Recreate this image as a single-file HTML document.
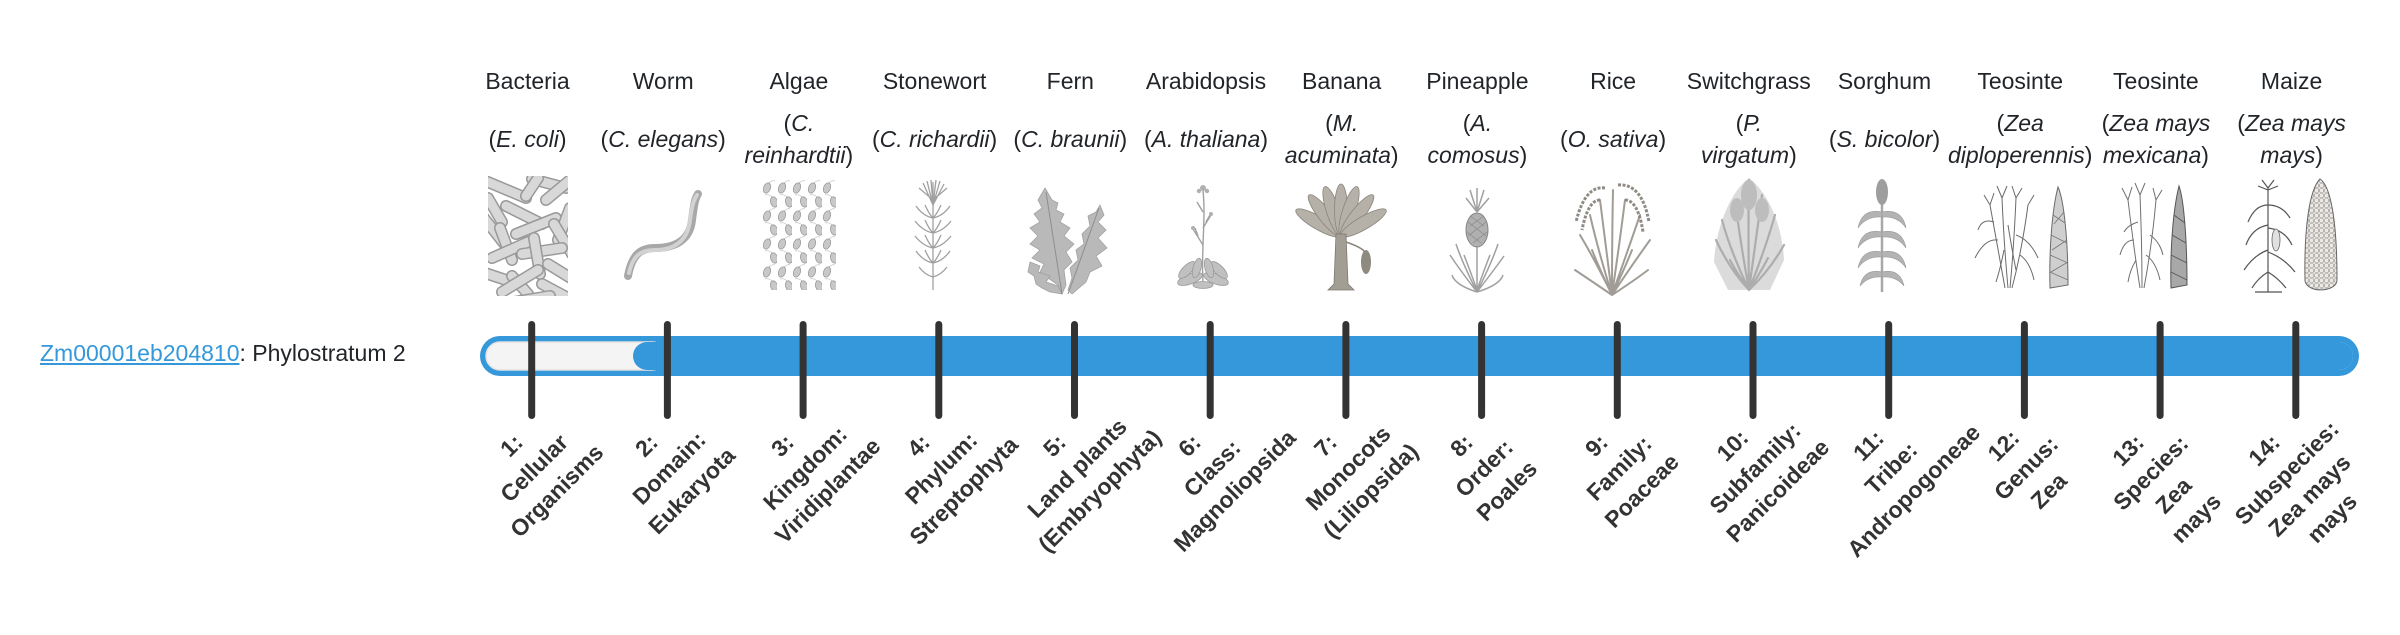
<!DOCTYPE html>
<html><head><meta charset="utf-8">
<style>
html,body{margin:0;padding:0;background:#fff;}
body{width:2400px;height:580px;position:relative;overflow:hidden;font-family:"Liberation Sans",Arial,sans-serif;color:#212529;}
.h{position:absolute;width:200px;text-align:center;font-size:23px;line-height:31.5px;white-space:nowrap;}
.lb{position:absolute;width:300px;top:420px;text-align:center;font-size:23px;line-height:32px;font-weight:bold;color:#333;white-space:nowrap;transform:rotate(-45deg);}
.lnk{position:absolute;left:40px;top:338px;font-size:23px;line-height:31.5px;white-space:nowrap;}
.lnk a{color:#3498db;text-decoration:underline;}
svg{position:absolute;left:0;top:0;}
</style></head><body>

<svg width="2400" height="580" viewBox="0 0 2400 580" xmlns="http://www.w3.org/2000/svg">
<defs>
<clipPath id="cb"><rect x="0" y="0" width="80" height="120"/></clipPath>
<pattern id="alg" x="762" y="180" width="15" height="28" patternUnits="userSpaceOnUse">
<ellipse cx="5" cy="8" rx="3.4" ry="5.3" fill="#c8c8c8" stroke="#9a9a9a" stroke-width="0.8" transform="rotate(20 5 8)"/>
<path d="M7 3 q3 -3 6 -2" stroke="#aaa" stroke-width="0.6" fill="none"/>
<ellipse cx="12" cy="22" rx="3.4" ry="5.3" fill="#c8c8c8" stroke="#9a9a9a" stroke-width="0.8" transform="rotate(-15 12 22)"/>
<path d="M10 17 q-3 -3 -7 -2" stroke="#aaa" stroke-width="0.6" fill="none"/>
</pattern>
<pattern id="kern" x="2304" y="178" width="5" height="5" patternUnits="userSpaceOnUse">
<rect x="0.5" y="0.5" width="4" height="4" rx="1" fill="#ece9e4" stroke="#8f8b85" stroke-width="0.6"/>
</pattern>
</defs>

<!-- 1 Bacteria -->
<g transform="translate(488,176)" clip-path="url(#cb)" stroke-linecap="round">
<g>
<line x1="0" y1="6" x2="38" y2="22" stroke="#999" stroke-width="12"/><line x1="0" y1="6" x2="38" y2="22" stroke="#d8d8d8" stroke-width="9"/>
<line x1="44" y1="3" x2="78" y2="12" stroke="#999" stroke-width="12"/><line x1="44" y1="3" x2="78" y2="12" stroke="#d8d8d8" stroke-width="9"/>
<line x1="0" y1="22" x2="14" y2="46" stroke="#999" stroke-width="12"/><line x1="0" y1="22" x2="14" y2="46" stroke="#d8d8d8" stroke-width="9"/>
<line x1="18" y1="30" x2="54" y2="48" stroke="#999" stroke-width="12"/><line x1="18" y1="30" x2="54" y2="48" stroke="#d8d8d8" stroke-width="9"/>
<line x1="58" y1="24" x2="82" y2="4" stroke="#999" stroke-width="12"/><line x1="58" y1="24" x2="82" y2="4" stroke="#d8d8d8" stroke-width="9"/>
<line x1="38" y1="20" x2="50" y2="2" stroke="#999" stroke-width="12"/><line x1="38" y1="20" x2="50" y2="2" stroke="#d8d8d8" stroke-width="9"/>
<line x1="-4" y1="42" x2="18" y2="70" stroke="#999" stroke-width="12"/><line x1="-4" y1="42" x2="18" y2="70" stroke="#d8d8d8" stroke-width="9"/>
<line x1="28" y1="58" x2="68" y2="42" stroke="#999" stroke-width="12"/><line x1="28" y1="58" x2="68" y2="42" stroke="#d8d8d8" stroke-width="9"/>
<line x1="70" y1="64" x2="82" y2="32" stroke="#999" stroke-width="12"/><line x1="70" y1="64" x2="82" y2="32" stroke="#d8d8d8" stroke-width="9"/>
<line x1="66" y1="48" x2="84" y2="78" stroke="#999" stroke-width="12"/><line x1="66" y1="48" x2="84" y2="78" stroke="#d8d8d8" stroke-width="9"/>
<line x1="12" y1="52" x2="24" y2="84" stroke="#999" stroke-width="12"/><line x1="12" y1="52" x2="24" y2="84" stroke="#d8d8d8" stroke-width="9"/>
<line x1="4" y1="82" x2="40" y2="66" stroke="#999" stroke-width="12"/><line x1="4" y1="82" x2="40" y2="66" stroke="#d8d8d8" stroke-width="9"/>
<line x1="34" y1="78" x2="74" y2="72" stroke="#999" stroke-width="12"/><line x1="34" y1="78" x2="74" y2="72" stroke="#d8d8d8" stroke-width="9"/>
<line x1="46" y1="62" x2="52" y2="98" stroke="#999" stroke-width="12"/><line x1="46" y1="62" x2="52" y2="98" stroke="#d8d8d8" stroke-width="9"/>
<line x1="60" y1="88" x2="86" y2="104" stroke="#999" stroke-width="12"/><line x1="60" y1="88" x2="86" y2="104" stroke="#d8d8d8" stroke-width="9"/>
<line x1="-6" y1="96" x2="30" y2="108" stroke="#999" stroke-width="12"/><line x1="-6" y1="96" x2="30" y2="108" stroke="#d8d8d8" stroke-width="9"/>
<line x1="24" y1="100" x2="40" y2="118" stroke="#999" stroke-width="12"/><line x1="24" y1="100" x2="40" y2="118" stroke="#d8d8d8" stroke-width="9"/>
<line x1="14" y1="116" x2="50" y2="94" stroke="#999" stroke-width="12"/><line x1="14" y1="116" x2="50" y2="94" stroke="#d8d8d8" stroke-width="9"/>
<line x1="54" y1="108" x2="84" y2="124" stroke="#999" stroke-width="12"/><line x1="54" y1="108" x2="84" y2="124" stroke="#d8d8d8" stroke-width="9"/>
<line x1="26" y1="126" x2="62" y2="120" stroke="#999" stroke-width="12"/><line x1="26" y1="126" x2="62" y2="120" stroke="#d8d8d8" stroke-width="9"/>
</g></g>

<!-- 2 Worm -->
<path d="M628,276 C632,255 640,248 655,248 C675,248 690,240 692,220 C694,205 695,198 698,194" stroke="#a8a8a8" stroke-width="8" fill="none" stroke-linecap="round"/>
<path d="M629,273 C633,255 641,250 655,250 C675,250 688,240 690,220 C692,205 694,199 697,195" stroke="#d2d2d2" stroke-width="4" fill="none" stroke-linecap="round"/>

<!-- 3 Algae -->
<rect x="762" y="180" width="74" height="110" fill="url(#alg)"/>

<!-- 4 Stonewort -->
<g stroke="#a0a0a0" stroke-width="1.3" fill="none">
<path d="M933,290 L933,182"/>
<path d="M933,205 l-10,-22 M933,205 l-6,-24 M933,205 l-2,-25 M933,205 l3,-25 M933,205 l7,-24 M933,205 l11,-21 M933,200 l-14,-12 M933,200 l14,-12"/>
<path d="M933,218 q-10,-2 -17,-12 M933,218 q10,-2 17,-12 M933,218 q-4,-4 -8,-13 M933,218 q4,-4 8,-13"/>
<path d="M933,233 q-10,-2 -18,-12 M933,233 q10,-2 18,-12 M933,233 q-4,-4 -8,-13 M933,233 q4,-4 8,-13"/>
<path d="M933,248 q-10,-2 -18,-12 M933,248 q10,-2 18,-12 M933,248 q-4,-4 -8,-13 M933,248 q4,-4 8,-13"/>
<path d="M933,263 q-10,-2 -17,-12 M933,263 q10,-2 17,-12 M933,263 q-4,-4 -8,-13 M933,263 q4,-4 8,-13"/>
<path d="M933,277 q-8,-2 -14,-10 M933,277 q8,-2 14,-10"/>
</g>

<!-- 5 Fern -->
<g fill="#b9b9b9" stroke="#a2a2a2" stroke-width="0.8">
<polygon points="1045,188 1052,200 1058,203 1056,210 1064,214 1060,222 1070,228 1064,236 1074,244 1066,252 1072,262 1064,270 1066,285 1062,294 1058,285 1048,278 1040,272 1044,264 1032,258 1040,250 1030,244 1038,236 1030,228 1040,222 1034,214 1042,208 1038,200"/>
<polygon points="1100,205 1104,215 1098,222 1106,230 1098,238 1107,248 1096,256 1102,266 1090,272 1086,282 1072,294 1068,290 1072,278 1070,268 1078,260 1076,250 1084,244 1082,234 1090,226 1088,216 1096,212"/>
<polygon points="1030,262 1040,266 1038,272 1050,276 1046,282 1058,286 1062,294 1050,292 1042,288 1036,284 1034,276 1028,272"/>
</g>
<path d="M1062,294 L1046,192 M1068,294 L1099,208" stroke="#8e8e8e" stroke-width="1" fill="none"/>

<!-- 6 Arabidopsis -->
<g fill="#c0c0c0" stroke="#9a9a9a" stroke-width="0.8">
<ellipse cx="1190" cy="279" rx="13" ry="5" transform="rotate(-20 1190 279)"/>
<ellipse cx="1216" cy="279" rx="13" ry="5" transform="rotate(20 1216 279)"/>
<ellipse cx="1187" cy="270" rx="11" ry="4.5" transform="rotate(-45 1187 270)"/>
<ellipse cx="1219" cy="270" rx="11" ry="4.5" transform="rotate(45 1219 270)"/>
<ellipse cx="1197" cy="268" rx="10" ry="4" transform="rotate(-75 1197 268)"/>
<ellipse cx="1209" cy="268" rx="10" ry="4" transform="rotate(75 1209 268)"/>
<ellipse cx="1203" cy="285" rx="10" ry="3.5"/>
</g>
<g stroke="#a0a0a0" stroke-width="1.4" fill="none">
<path d="M1203,282 C1201,250 1206,220 1203,190"/>
<path d="M1203,245 l-10,-16 M1203,228 l8,-13 M1203,212 l-6,-10 M1198,236 l-3,-8 M1206,222 l4,-7"/>
</g>
<g fill="#b0b0b0"><circle cx="1203" cy="188" r="3"/><circle cx="1199" cy="191" r="2.2"/><circle cx="1207" cy="191" r="2.2"/><circle cx="1193" cy="228" r="2"/><circle cx="1211" cy="214" r="2"/></g>

<!-- 7 Banana -->
<g fill="#b5b1a8" stroke="#8a857b" stroke-width="0.8">
<ellipse cx="1318.5" cy="223" rx="26" ry="6.5" transform="rotate(-150 1318.5 223)"/>
<ellipse cx="1325" cy="215.5" rx="26" ry="6.5" transform="rotate(-128 1325 215.5)"/>
<ellipse cx="1333" cy="211.3" rx="26" ry="6.5" transform="rotate(-108 1333 211.3)"/>
<ellipse cx="1341" cy="210" rx="26" ry="6.5" transform="rotate(-90 1341 210)"/>
<ellipse cx="1349" cy="211.3" rx="26" ry="6.5" transform="rotate(-72 1349 211.3)"/>
<ellipse cx="1357" cy="215.5" rx="26" ry="6.5" transform="rotate(-52 1357 215.5)"/>
<ellipse cx="1363.5" cy="223" rx="26" ry="6.5" transform="rotate(-30 1363.5 223)"/>
</g>
<path d="M1336,234 L1346,234 L1348,284 L1354,290 L1328,290 L1334,284 Z" fill="#a39e94" stroke="#7e796f" stroke-width="0.8"/>
<ellipse cx="1366" cy="262" rx="5" ry="12" fill="#8f8a80"/>
<path d="M1346,242 q15,5 19,10" stroke="#8a857b" stroke-width="1.5" fill="none"/>

<!-- 8 Pineapple -->
<g stroke="#a0a0a0" stroke-width="1.5" fill="none">
<path d="M1477,212 L1470,190 M1477,212 L1477,188 M1477,212 L1484,190 M1477,212 L1466,198 M1477,212 L1489,198"/>
<path d="M1477,246 L1477,292"/>
<path d="M1477,292 Q1460,270 1450,255 M1477,292 Q1462,262 1456,244 M1477,290 Q1468,265 1464,255 M1477,292 Q1494,270 1504,256 M1477,292 Q1492,262 1498,244 M1477,290 Q1486,265 1490,255 M1477,292 Q1455,285 1452,275 M1477,292 Q1500,285 1503,275"/>
</g>
<ellipse cx="1477" cy="230" rx="11" ry="17" fill="#b0b0b0" stroke="#858585" stroke-width="1"/>
<path d="M1468,222 l18,14 M1467,232 l14,11 M1470,216 l14,10 M1486,222 l-18,14 M1487,232 l-14,11 M1484,216 l-14,10" stroke="#888" stroke-width="0.7"/>

<!-- 9 Rice -->
<g stroke="#a19d96" stroke-width="2" fill="none" stroke-linecap="round">
<path d="M1612,295 Q1595,260 1580,235 M1612,295 Q1598,250 1590,215 M1612,295 Q1605,240 1600,200 M1612,295 Q1612,240 1613,190 M1612,295 Q1620,240 1625,200 M1612,295 Q1628,250 1640,215 M1612,295 Q1632,265 1650,240 M1612,295 Q1600,270 1592,250 M1612,295 Q1624,270 1632,250 M1612,295 Q1590,280 1575,270 M1612,295 Q1635,280 1648,270"/>
</g>
<g stroke="#8f8b84" stroke-width="3" fill="none" stroke-dasharray="3 1.5">
<path d="M1605,188 Q1585,185 1576,222"/>
<path d="M1618,185 Q1642,183 1649,222"/>
<path d="M1600,200 Q1588,200 1582,230"/>
<path d="M1625,200 Q1638,200 1643,232"/>
</g>

<!-- 10 Switchgrass -->
<path d="M1749,178 C1765,190 1782,220 1784,260 L1770,290 L1728,290 L1714,262 C1716,225 1732,190 1749,178 Z" fill="#d2d2d2" opacity="0.8"/>
<g stroke="#adadad" stroke-width="2.2" fill="none" stroke-linecap="round">
<path d="M1749,290 Q1730,270 1716,240 M1749,290 Q1730,250 1722,220 M1749,290 Q1740,240 1735,200 M1749,290 Q1748,230 1749,180 M1749,290 Q1756,240 1762,195 M1749,290 Q1765,250 1775,215 M1749,290 Q1770,270 1784,245 M1749,290 Q1735,270 1730,260 M1749,290 Q1762,270 1768,258"/>
</g>
<g fill="#bdbdbd"><ellipse cx="1749" cy="195" rx="8" ry="15"/><ellipse cx="1737" cy="210" rx="7" ry="12"/><ellipse cx="1762" cy="210" rx="7" ry="12"/></g>

<!-- 11 Sorghum -->
<path d="M1882,292 L1882,202" stroke="#a8a8a8" stroke-width="2.5"/>
<ellipse cx="1882" cy="192" rx="6" ry="13" fill="#9e9e9e"/>
<g fill="#b3b3b3" stroke="#999" stroke-width="0.6">
<path d="M1882,212 Q1862,208 1858,228 Q1866,216 1882,217 Z"/>
<path d="M1882,212 Q1902,208 1906,228 Q1898,216 1882,217 Z"/>
<path d="M1882,232 Q1862,228 1858,248 Q1866,236 1882,237 Z"/>
<path d="M1882,232 Q1902,228 1906,248 Q1898,236 1882,237 Z"/>
<path d="M1882,252 Q1862,248 1858,268 Q1866,256 1882,257 Z"/>
<path d="M1882,252 Q1902,248 1906,268 Q1898,256 1882,257 Z"/>
<path d="M1882,272 Q1864,268 1860,286 Q1868,276 1882,277 Z"/>
<path d="M1882,272 Q1900,268 1904,286 Q1896,276 1882,277 Z"/>
</g>

<!-- 12 Teosinte -->
<g stroke="#6a6a6a" stroke-width="1" fill="none">
<path d="M2005,288 Q1998,250 1990,205 M2008,288 Q2004,245 2002,198 M2010,288 Q2014,245 2016,198 M2012,288 Q2022,250 2028,205"/>
<path d="M1990,205 l-6,-10 M1990,205 l4,-12 M2002,198 l-5,-12 M2002,198 l5,-12 M2016,198 l-4,-12 M2016,198 l6,-10 M2028,205 l6,-10"/>
<path d="M1998,240 Q1985,238 1975,258 M1994,222 Q1982,218 1978,230 M2004,250 Q2000,270 1996,282 M2016,235 Q2030,240 2038,258 M2020,255 Q2030,262 2034,280 M2008,225 Q2012,250 2016,270"/>
</g>
<path d="M2058,187 C2064,200 2068,240 2068,285 L2050,288 C2049,250 2052,210 2058,187 Z" fill="#cfcfcf" stroke="#6a6a6a" stroke-width="1"/>
<path d="M2053,215 l12,8 M2051,235 l16,8 M2050,255 l18,8 M2050,272 l18,8 M2064,212 l-10,12 M2067,240 l-15,10 M2068,262 l-17,10" stroke="#777" stroke-width="0.8"/>

<!-- 13 Teosinte -->
<g stroke="#707070" stroke-width="1" fill="none">
<path d="M2140,288 Q2134,250 2128,200 M2142,288 Q2142,245 2140,195 M2144,288 Q2152,245 2156,200"/>
<path d="M2128,200 l-6,-12 M2128,200 l4,-13 M2140,195 l-5,-12 M2140,195 l5,-12 M2156,200 l-3,-12 M2156,200 l6,-10"/>
<path d="M2134,240 Q2124,240 2120,255 M2138,222 Q2128,225 2124,232 M2150,235 Q2160,242 2163,255 M2146,255 Q2156,262 2160,280 M2136,260 Q2130,270 2128,282"/>
</g>
<path d="M2179,186 C2184,200 2187,240 2187,285 L2171,288 C2170,250 2173,210 2179,186 Z" fill="#a8a8a8" stroke="#555" stroke-width="1"/>
<path d="M2174,215 l11,8 M2172,235 l14,8 M2171,255 l16,8 M2171,272 l16,8" stroke="#555" stroke-width="0.8"/>

<!-- 14 Maize -->
<g stroke="#555" stroke-width="1.2" fill="none">
<path d="M2268,292 L2268,188"/>
<path d="M2268,188 l-6,-8 M2268,188 l6,-8 M2268,190 l-10,-4 M2268,190 l10,-4"/>
<path d="M2268,205 Q2255,205 2248,222 M2268,205 Q2282,205 2290,218 M2268,225 Q2252,228 2246,245 M2268,228 Q2285,230 2292,245 M2268,250 Q2254,255 2244,270 M2268,252 Q2284,258 2295,272 M2268,272 Q2258,278 2252,288 M2268,272 Q2278,278 2286,288"/>
<path d="M2255,292 L2282,292"/>
</g>
<ellipse cx="2276" cy="240" rx="4" ry="11" fill="#e0e0e0" stroke="#666" stroke-width="0.8"/>
<path d="M2320,179 C2331,186 2337,222 2337,280 C2337,292 2308,294 2305,281 C2304,230 2309,190 2320,179 Z" fill="url(#kern)" stroke="#666" stroke-width="1"/>

<!-- Bar -->
<rect x="480" y="336" width="1879" height="40" rx="20" ry="20" fill="#3498db"/>
<rect x="486" y="342" width="1867" height="28" rx="14" ry="14" fill="#f4f4f4"/>
<rect x="486" y="342" width="180" height="28" rx="14" ry="14" fill="none" stroke="#e2e2e2" stroke-width="1.5"/>
<rect x="633" y="342" width="1720" height="28" rx="14" ry="14" fill="#3498db"/>

<!-- Ticks -->
<g stroke="#333" stroke-width="7" stroke-linecap="round">
<line x1="531.7" y1="324.5" x2="531.7" y2="415.5"/>
<line x1="667.4" y1="324.5" x2="667.4" y2="415.5"/>
<line x1="803.1" y1="324.5" x2="803.1" y2="415.5"/>
<line x1="938.8" y1="324.5" x2="938.8" y2="415.5"/>
<line x1="1074.5" y1="324.5" x2="1074.5" y2="415.5"/>
<line x1="1210.2" y1="324.5" x2="1210.2" y2="415.5"/>
<line x1="1345.9" y1="324.5" x2="1345.9" y2="415.5"/>
<line x1="1481.6" y1="324.5" x2="1481.6" y2="415.5"/>
<line x1="1617.3" y1="324.5" x2="1617.3" y2="415.5"/>
<line x1="1753" y1="324.5" x2="1753" y2="415.5"/>
<line x1="1888.7" y1="324.5" x2="1888.7" y2="415.5"/>
<line x1="2024.4" y1="324.5" x2="2024.4" y2="415.5"/>
<line x1="2160.1" y1="324.5" x2="2160.1" y2="415.5"/>
<line x1="2295.8" y1="324.5" x2="2295.8" y2="415.5"/>
</g>
</svg>

<!-- Common names -->
<div class="h" style="left:427.5px;top:66.3px">Bacteria</div>
<div class="h" style="left:563.2px;top:66.3px">Worm</div>
<div class="h" style="left:698.9px;top:66.3px">Algae</div>
<div class="h" style="left:834.6px;top:66.3px">Stonewort</div>
<div class="h" style="left:970.3px;top:66.3px">Fern</div>
<div class="h" style="left:1106px;top:66.3px">Arabidopsis</div>
<div class="h" style="left:1241.7px;top:66.3px">Banana</div>
<div class="h" style="left:1377.4px;top:66.3px">Pineapple</div>
<div class="h" style="left:1513.1px;top:66.3px">Rice</div>
<div class="h" style="left:1648.8px;top:66.3px">Switchgrass</div>
<div class="h" style="left:1784.5px;top:66.3px">Sorghum</div>
<div class="h" style="left:1920.2px;top:66.3px">Teosinte</div>
<div class="h" style="left:2055.9px;top:66.3px">Teosinte</div>
<div class="h" style="left:2191.6px;top:66.3px">Maize</div>

<!-- Species -->
<div class="h" style="left:427.5px;top:123.5px">(<i>E. coli</i>)</div>
<div class="h" style="left:563.2px;top:123.5px">(<i>C. elegans</i>)</div>
<div class="h" style="left:698.9px;top:108px">(<i>C.</i><br><i>reinhardtii</i>)</div>
<div class="h" style="left:834.6px;top:123.5px">(<i>C. richardii</i>)</div>
<div class="h" style="left:970.3px;top:123.5px">(<i>C. braunii</i>)</div>
<div class="h" style="left:1106px;top:123.5px">(<i>A. thaliana</i>)</div>
<div class="h" style="left:1241.7px;top:108px">(<i>M.</i><br><i>acuminata</i>)</div>
<div class="h" style="left:1377.4px;top:108px">(<i>A.</i><br><i>comosus</i>)</div>
<div class="h" style="left:1513.1px;top:123.5px">(<i>O. sativa</i>)</div>
<div class="h" style="left:1648.8px;top:108px">(<i>P.</i><br><i>virgatum</i>)</div>
<div class="h" style="left:1784.5px;top:123.5px">(<i>S. bicolor</i>)</div>
<div class="h" style="left:1920.2px;top:108px">(<i>Zea</i><br><i>diploperennis</i>)</div>
<div class="h" style="left:2055.9px;top:108px">(<i>Zea mays</i><br><i>mexicana</i>)</div>
<div class="h" style="left:2191.6px;top:108px">(<i>Zea mays</i><br><i>mays</i>)</div>

<!-- Left label -->
<div class="lnk"><a>Zm00001eb204810</a>: Phylostratum 2</div>

<!-- Rotated labels -->
<div class="lb" style="left:383.7px">1:<br>Cellular<br>Organisms</div>
<div class="lb" style="left:519.4px">2:<br>Domain:<br>Eukaryota</div>
<div class="lb" style="left:655.1px">3:<br>Kingdom:<br>Viridiplantae</div>
<div class="lb" style="left:790.8px">4:<br>Phylum:<br>Streptophyta</div>
<div class="lb" style="left:926.5px">5:<br>Land plants<br>(Embryophyta)</div>
<div class="lb" style="left:1062.2px">6:<br>Class:<br>Magnoliopsida</div>
<div class="lb" style="left:1197.9px">7:<br>Monocots<br>(Liliopsida)</div>
<div class="lb" style="left:1333.6px">8:<br>Order:<br>Poales</div>
<div class="lb" style="left:1469.3px">9:<br>Family:<br>Poaceae</div>
<div class="lb" style="left:1605px">10:<br>Subfamily:<br>Panicoideae</div>
<div class="lb" style="left:1740.7px">11:<br>Tribe:<br>Andropogoneae</div>
<div class="lb" style="left:1876.4px">12:<br>Genus:<br>Zea</div>
<div class="lb" style="left:2012.1px">13:<br>Species:<br>Zea<br>mays</div>
<div class="lb" style="left:2147.8px">14:<br>Subspecies:<br>Zea mays<br>mays</div>

</body></html>
